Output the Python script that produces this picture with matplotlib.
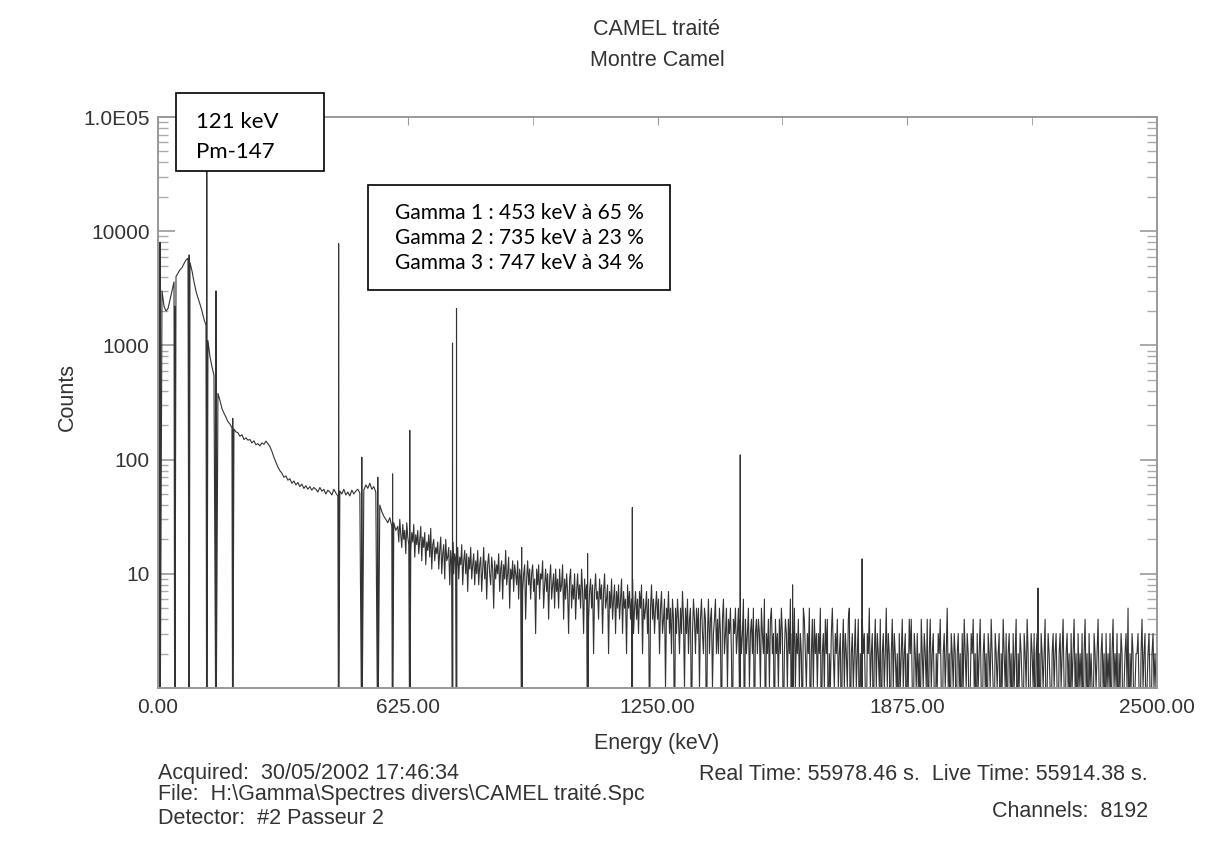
import numpy as np
import matplotlib
matplotlib.use('Agg')
import matplotlib.pyplot as plt
from matplotlib.patches import Rectangle
from matplotlib.ticker import FixedLocator, FixedFormatter, LogLocator, NullFormatter

plt.rcParams['font.family'] = ['Liberation Sans', 'DejaVu Sans']

# textes du scan
title_1 = 'CAMEL traité'
title_2 = 'Montre Camel'
x_label = 'Energy (keV)'
y_label = 'Counts'
info_left = ['Acquired:  30/05/2002 17:46:34',
             'File:  H:\\Gamma\\Spectres divers\\CAMEL traité.Spc',
             'Detector:  #2 Passeur 2']
info_right = ['Real Time: 55978.46 s.  Live Time: 55914.38 s.',
              'Channels:  8192']
box_pm = ['121 keV', 'Pm-147']
box_gamma = ['Gamma 1 : 453 keV à 65 %',
             'Gamma 2 : 735 keV à 23 %',
             'Gamma 3 : 747 keV à 34 %']

x_ticks = [0, 625, 1250, 1875, 2500]
x_tick_labels = ['0.00', '625.00', '1250.00', '1875.00', '2500.00']
y_ticks = [1, 10, 100, 1000, 10000, 100000]
y_tick_labels = ['', '10', '100', '1000', '10000', '1.0E05']

# continuum lu sur le scan : 0 -> 595 keV par pas de 5 keV
step_low = 5
counts_low = [
    3500, 4500, 3000, 2200, 2000, 2100, 2500, 3000, 3600, 4000, 4300, 4600, 4800, 5200, 5600, 5800, 5300, 4500, 3600, 3000,
    2600, 2300, 2000, 1700, 1500, 1100, 800, 650, 550, 450, 380, 330, 280, 255, 235, 215, 205, 190, 185, 175,
    172, 160, 165, 150, 155, 148, 150, 140, 146, 135, 138, 132, 140, 136, 145, 138, 130, 118, 105, 95,
    86, 80, 76, 70, 72, 66, 68, 62, 65, 60, 63, 58, 61, 56, 59, 55, 58, 54, 57, 55,
    52, 57, 53, 55, 50, 54, 52, 49, 55, 51, 48, 53, 50, 55, 49, 52, 48, 54, 50, 53,
    55, 51, 58, 54, 60, 56, 62, 55, 58, 52, 45, 40, 35, 32, 30, 28, 31, 26, 28, 24,
]
# 600 -> 2500 keV par pas de 2.5 keV (zone bruitee)
start_high = 600
step_high = 2.5
counts_high = [
    26, 19, 30, 22, 17, 27, 20, 24, 15, 28, 21, 18, 25, 16, 23, 19, 27, 14, 22, 18,
    24, 15, 20, 26, 13, 21, 17, 23, 12, 19, 16, 22, 14, 25, 11, 18, 20, 13, 17, 15,
    19, 11, 16, 21, 10, 15, 18, 9, 20, 13, 14, 17, 8, 16, 12, 19, 10, 15, 13, 11,
    17, 9, 14, 12, 18, 8, 13, 16, 10, 15, 7, 14, 11, 17, 9, 12, 15, 8, 13, 10,
    16, 8, 12, 14, 7, 11, 17, 9, 13, 6, 12, 15, 10, 8, 14, 11, 5, 13, 9, 12,
    10, 15, 7, 11, 13, 6, 12, 9, 16, 8, 10, 14, 5, 11, 9, 13, 7, 12, 10, 8,
    13, 6, 11, 9, 14, 7, 10, 12, 4, 9, 13, 8, 11, 6, 10, 12, 7, 9, 3, 11,
    8, 12, 6, 10, 9, 13, 5, 8, 11, 7, 10, 4, 9, 12, 6, 8, 10, 5, 11, 7,
    9, 5, 11, 7, 8, 12, 4, 9, 6, 10, 7, 3, 9, 11, 5, 8, 6, 10, 4, 7,
    10, 6, 8, 5, 11, 7, 3, 9, 6, 8, 10, 4, 7, 9, 5, 8, 2, 7, 10, 6,
    7, 4, 9, 6, 8, 3, 7, 10, 5, 6, 8, 2, 7, 5, 9, 4, 6, 8, 3, 7,
    5, 8, 4, 6, 9, 3, 7, 5, 6, 2, 8, 5, 7, 4, 6, 9, 3, 5, 7, 4,
    6, 3, 7, 5, 8, 2, 6, 4, 5, 7, 3, 6, 0, 5, 8, 4, 6, 3, 5, 7,
    4, 6, 2, 5, 7, 3, 4, 6, 1, 5, 4, 7, 3, 5, 2, 6, 4, 0, 5, 3,
    6, 4, 2, 5, 3, 7, 4, 1, 5, 3, 6, 2, 4, 5, 0, 3, 6, 4, 2, 5,
    3, 5, 1, 4, 6, 3, 2, 5, 4, 0, 3, 6, 2, 4, 5, 1, 3, 4, 6, 2,
    4, 2, 5, 3, 0, 4, 6, 2, 3, 5, 1, 4, 3, 5, 2, 0, 4, 3, 5, 2,
    3, 5, 1, 4, 2, 3, 6, 0, 4, 2, 3, 5, 1, 3, 4, 2, 5, 0, 3, 4,
    2, 4, 3, 1, 5, 3, 2, 6, 0, 3, 2, 4, 1, 4, 5, 2, 3, 0, 4, 2,
    3, 1, 4, 2, 5, 3, 0, 2, 4, 3, 1, 4, 2, 6, 0, 3, 2, 5, 1, 3,
    2, 4, 1, 3, 2, 0, 5, 4, 2, 1, 3, 2, 5, 0, 2, 4, 1, 4, 2, 3,
    1, 3, 2, 5, 0, 2, 3, 1, 4, 2, 4, 0, 2, 1, 3, 5, 2, 1, 3, 2,
    4, 1, 2, 3, 0, 2, 4, 1, 3, 2, 1, 4, 5, 0, 2, 3, 1, 2, 4, 1,
    2, 4, 0, 2, 1, 4, 2, 3, 1, 0, 3, 2, 5, 1, 2, 3, 0, 2, 4, 1,
    3, 2, 1, 4, 0, 2, 3, 1, 2, 5, 1, 3, 2, 0, 2, 4, 1, 3, 2, 1,
    2, 0, 3, 1, 2, 4, 1, 2, 3, 0, 2, 1, 4, 2, 4, 1, 0, 3, 2, 1,
    3, 1, 2, 0, 4, 2, 1, 3, 2, 1, 4, 0, 2, 4, 1, 2, 3, 1, 0, 2,
    1, 3, 2, 4, 1, 0, 2, 3, 1, 2, 5, 1, 2, 0, 3, 2, 1, 3, 2, 0,
    2, 3, 1, 2, 0, 3, 1, 4, 2, 1, 3, 2, 0, 1, 3, 2, 4, 1, 2, 0,
    3, 1, 2, 4, 1, 0, 2, 3, 1, 2, 0, 3, 2, 1, 4, 2, 1, 0, 3, 2,
    1, 2, 3, 0, 2, 1, 4, 2, 1, 3, 0, 2, 3, 1, 2, 0, 3, 1, 2, 4,
    0, 2, 1, 3, 2, 1, 0, 3, 2, 1, 4, 2, 0, 1, 3, 2, 1, 3, 0, 2,
    3, 1, 2, 0, 3, 2, 1, 2, 4, 0, 1, 3, 2, 1, 0, 2, 3, 1, 2, 3,
    1, 0, 2, 3, 1, 2, 4, 1, 0, 2, 3, 1, 2, 0, 3, 1, 2, 4, 1, 2,
    0, 3, 1, 2, 1, 3, 0, 2, 4, 1, 2, 0, 3, 1, 2, 1, 0, 3, 2, 1,
    2, 4, 1, 0, 2, 3, 1, 2, 0, 3, 1, 2, 1, 3, 0, 2, 4, 1, 2, 1,
    3, 0, 2, 1, 3, 2, 0, 1, 2, 3, 1, 5, 0, 2, 1, 3, 2, 0, 1, 2,
    2, 3, 1, 0, 2, 4, 1, 2, 3, 0, 1, 2, 3, 1, 0, 2, 3, 1, 2, 1,
    1,
]

# raies (keV, coups au sommet)
peak_kev = [5, 42, 78, 122, 145, 187, 452, 510, 550, 587, 630, 737, 747,
            910, 1075, 1187, 1457, 1588, 1762, 2202]
peak_counts = [8000, 2200, 6200, 35000, 3000, 230, 7800, 105, 70, 75, 180, 1050, 2100,
               17, 15, 38, 110, 8, 13.5, 7.5]

energy_low = np.arange(len(counts_low)) * step_low
energy_high = start_high + np.arange(len(counts_high)) * step_high
spec = dict(zip(np.concatenate([energy_low, energy_high]).astype(float),
                np.array(counts_low + counts_high, dtype=float)))
for e, c in zip(peak_kev, peak_counts):
    spec[e - 0.3] = 0.0
    spec[float(e)] = c
    spec[e + 0.3] = 0.0
xs = np.array(sorted(spec))
ys = np.array([spec[k] for k in xs])
ys = np.where(ys <= 0, 0.3, ys)  # zero -> sous l'axe

fig = plt.figure(figsize=(12.09, 8.63), dpi=100)
ax = fig.add_axes([0.1307, 0.2028, 0.8263, 0.6616])

ax.plot(xs, ys, color='#333333', lw=0.8)
ax.set_yscale('log')
ax.set_xlim(0, 2500)
ax.set_ylim(1, 1e5)

txt = '#333333'
ax.xaxis.set_major_locator(FixedLocator(x_ticks))
ax.xaxis.set_major_formatter(FixedFormatter(x_tick_labels))
ax.xaxis.set_minor_locator(FixedLocator(np.arange(0, 2501, 312.5)))
ax.tick_params(axis='x', which='both', direction='in', bottom=False, top=True,
               length=6, color='#999999', labelsize=15, labelcolor=txt, pad=7)
ax.yaxis.set_major_locator(FixedLocator(y_ticks))
ax.yaxis.set_major_formatter(FixedFormatter(y_tick_labels))
ax.yaxis.set_minor_locator(LogLocator(base=10, subs=np.arange(2, 10)))
ax.yaxis.set_minor_formatter(NullFormatter())
ax.tick_params(axis='y', which='major', direction='in', left=True, right=True,
               length=12, width=1.2, color='#999999', labelsize=15, labelcolor=txt, pad=6)
ax.tick_params(axis='y', which='minor', direction='in', left=True, right=True,
               length=7, width=1.0, color='#aaaaaa')
for s in ax.spines.values():
    s.set_color('#999999')
    s.set_linewidth(1.4)

fig.text(0.5434, 0.966, title_1, ha='center', va='center', fontsize=15.5, color=txt)
fig.text(0.5434, 0.930, title_2, ha='center', va='center', fontsize=15.5, color=txt)
fig.text(0.5434, 0.138, x_label, ha='center', va='center', fontsize=15.5, color=txt)
fig.text(0.0554, 0.54, y_label, ha='center', va='center', rotation=90, fontsize=15.5, color=txt)

for y, s in zip([0.104, 0.079, 0.052], info_left):
    fig.text(0.1307, y, s, ha='left', va='center', fontsize=15.5, color=txt)
for y, s in zip([0.102, 0.060], info_right):
    fig.text(0.9495, y, s, ha='right', va='center', fontsize=15.5, color=txt)

# cadres d'annotation
fig.patches.append(Rectangle((0.1456, 0.8019), 0.1224, 0.0904, transform=fig.transFigure,
                             facecolor='white', edgecolor='black', lw=1.2, zorder=5))
fig.text(0.1621, 0.8586, box_pm[0], ha='left', va='center', fontsize=16,
         family=['Lato', 'DejaVu Sans'], zorder=6)
fig.text(0.1621, 0.8239, box_pm[1], ha='left', va='center', fontsize=16,
         family=['Lato', 'DejaVu Sans'], zorder=6)

fig.patches.append(Rectangle((0.3044, 0.6640), 0.2498, 0.1217, transform=fig.transFigure,
                             facecolor='white', edgecolor='black', lw=1.2, zorder=5))
for y, s in zip([0.7532, 0.7242, 0.6953], box_gamma):
    fig.text(0.4293, y, s, ha='center', va='center', fontsize=15,
             family=['Lato', 'DejaVu Sans'], zorder=6)

fig.savefig('out.png', dpi=100)
